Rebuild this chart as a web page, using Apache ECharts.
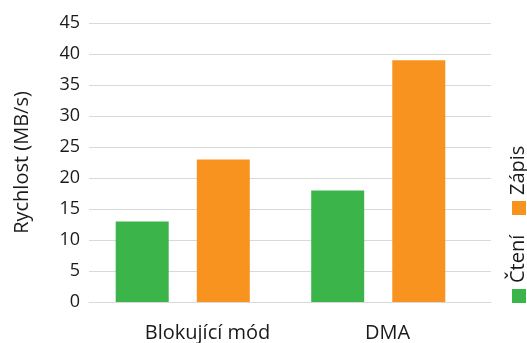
<!DOCTYPE html>
<html>
<head>
<meta charset="utf-8">
<script src="https://cdn.jsdelivr.net/npm/echarts@6/dist/echarts.min.js"></script>
<style>
  html, body { margin: 0; padding: 0; background: #fff; }
  #container { width: 527px; height: 343px; }
</style>
</head>
<body>
<div id="container"></div>
<script>
// data
var categories = ['Blokující mód', 'DMA'];
var seriesNames = ['Čtení', 'Zápis'];
var cteni = [13, 18];
var zapis = [23, 39];
var colors = ['#3bb54a', '#f7931e'];

window.onload = function () {
	var font = 'Open Sans';
	var textColor = '#1a1a1a';

	// legend drawn vertically with rotated text, like the original
	var legendY = [303, 215];
	var legend = [];
	for (var i = 0; i < seriesNames.length; i++) {
		legend.push({
			type: 'rect',
			shape: { x: 512, y: legendY[i] - 14, width: 14, height: 14 },
			style: { fill: colors[i] }
		});
		legend.push({
			type: 'text',
			x: 518,
			y: legendY[i] - 20,
			rotation: Math.PI / 2,
			style: {
				text: seriesNames[i],
				font: '20px "' + font + '"',
				fill: textColor,
				align: 'left',
				verticalAlign: 'middle'
			}
		});
	}

	var option = {
		backgroundColor: '#fff',
		animation: false,
		textStyle: { fontFamily: font },
		grid: [
			{ left: 89, right: 36, top: 23, height: 279, outerBoundsMode: 'none' },  // gridlines + labels
			{ left: 85, width: 391, top: 23, height: 279, outerBoundsMode: 'none' }  // bars
		],
		xAxis: [
			{
				type: 'category',
				gridIndex: 0,
				data: categories,
				axisLine: { lineStyle: { color: '#d9d9d9' } },
				axisTick: { show: false },
				axisLabel: {
					interval: 0,
					hideOverlap: false,
					margin: 21,
					fontSize: 20,
					color: textColor,
					formatter: function (v, idx) {
						return idx === 0 ? '{a|' + v + '}' : '{b|' + v + '}';
					},
					rich: {
						a: { fontSize: 20, color: textColor, padding: [0, 0, 0, 36] },
						b: { fontSize: 20, color: textColor, padding: [0, 6, 0, 0] }
					}
				}
			},
			{
				type: 'category',
				gridIndex: 1,
				data: categories,
				show: false
			}
		],
		yAxis: [
			{
				type: 'value',
				gridIndex: 0,
				min: 0,
				max: 45,
				interval: 5,
				name: 'Rychlost (MB/s)',
				nameLocation: 'middle',
				nameGap: 57,
				nameTextStyle: { fontSize: 20, color: textColor },
				axisLine: { show: false },
				axisTick: { show: false },
				axisLabel: { fontSize: 18, color: textColor, margin: 9 },
				splitLine: { lineStyle: { color: '#d9d9d9', width: 1 } }
			},
			{
				type: 'value',
				gridIndex: 1,
				min: 0,
				max: 45,
				interval: 5,
				show: false,
				splitLine: { show: false }
			}
		],
		series: [
			{
				name: seriesNames[0],
				type: 'bar',
				xAxisIndex: 1,
				yAxisIndex: 1,
				data: cteni,
				barWidth: 53,
				barGap: '53%',
				itemStyle: { color: colors[0] }
			},
			{
				name: seriesNames[1],
				type: 'bar',
				xAxisIndex: 1,
				yAxisIndex: 1,
				data: zapis,
				barWidth: 53,
				barGap: '53%',
				itemStyle: { color: colors[1] }
			}
		],
		graphic: legend
	};

	var myChart = echarts.init(document.getElementById('container'));
	myChart.setOption(option);
};
</script>
</body>
</html>
